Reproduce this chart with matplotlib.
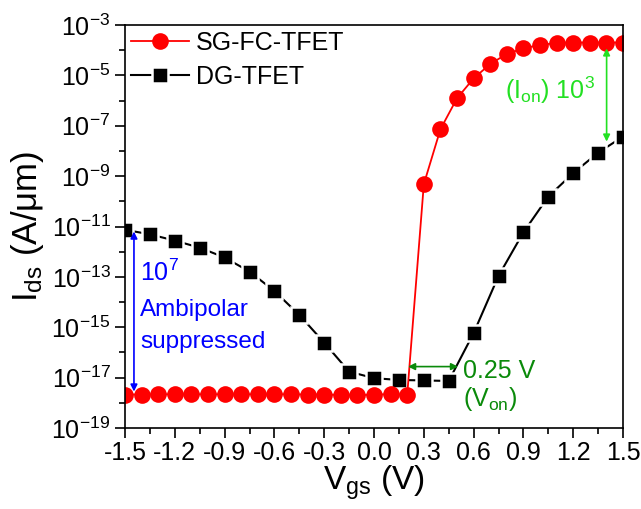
import numpy as np
import matplotlib
matplotlib.use('Agg')
import matplotlib.pyplot as plt

plt.rcParams['font.family'] = ['Liberation Sans', 'DejaVu Sans']
plt.rcParams['mathtext.fontset'] = 'custom'
plt.rcParams['mathtext.rm'] = 'Liberation Sans'
plt.rcParams['mathtext.it'] = 'Liberation Sans:italic'
plt.rcParams['axes.unicode_minus'] = False

# SG-FC-TFET (red circles), log10 of Ids
vgs_sg = [-1.5, -1.4, -1.3, -1.2, -1.1, -1.0, -0.9, -0.8, -0.7, -0.6, -0.5, -0.4,
          -0.3, -0.2, -0.1, 0.0, 0.1, 0.2,
          0.3, 0.4, 0.5, 0.6, 0.7, 0.8, 0.9, 1.0, 1.1, 1.2, 1.3, 1.4, 1.5]
log_ids_sg = [-17.67, -17.67, -17.66, -17.66, -17.66, -17.66, -17.66, -17.66, -17.66,
              -17.66, -17.66, -17.67, -17.67, -17.69, -17.70, -17.67, -17.66, -17.67,
              -9.32, -7.14, -5.91, -5.12, -4.55, -4.15, -3.93, -3.79, -3.72, -3.70,
              -3.70, -3.70, -3.70]

# DG-TFET (black squares)
vgs_dg = [-1.5, -1.35, -1.2, -1.05, -0.9, -0.75, -0.6, -0.45, -0.3, -0.15, 0.0,
          0.15, 0.3, 0.45, 0.6, 0.75, 0.9, 1.05, 1.2, 1.35, 1.5]
log_ids_dg = [-11.13, -11.31, -11.56, -11.84, -12.23, -12.79, -13.56, -14.51, -15.61,
              -16.76, -17.02, -17.09, -17.11, -17.13, -15.23, -12.96, -11.23, -9.81,
              -8.88, -8.07, -7.43]

xticks = [-1.5, -1.2, -0.9, -0.6, -0.3, 0.0, 0.3, 0.6, 0.9, 1.2, 1.5]
yexp = [-19, -17, -15, -13, -11, -9, -7, -5, -3]

ids_sg = 10.0 ** np.array(log_ids_sg)
ids_dg = 10.0 ** np.array(log_ids_dg)

fig = plt.figure(figsize=(6.41, 5.09), dpi=100)
ax = fig.add_axes([0.195, 0.159, 0.777, 0.792])

ax.plot(vgs_dg, ids_dg, '-s', color='black', lw=1.5, ms=11, mfc='black',
        mec='white', mew=1.8, label='DG-TFET')
ax.plot(vgs_sg, ids_sg, '-o', color='red', lw=1.3, ms=12, mfc='red',
        mec='red', mew=0, label='SG-FC-TFET')

ax.set_yscale('log')
ax.set_xlim(-1.5, 1.5)
ax.set_ylim(1e-19, 1e-3)

ax.set_xticks(xticks)
ax.set_xticklabels(['%.1f' % v for v in xticks])
ax.set_xticks(np.arange(-1.35, 1.5, 0.3), minor=True)
ax.set_yticks([10.0 ** e for e in yexp])
ax.set_yticklabels([r'$\mathregular{10^{%d}}$' % e for e in yexp])
ax.set_yticks([10.0 ** e for e in range(-18, -3, 2)], minor=True)
ax.yaxis.set_minor_formatter(matplotlib.ticker.NullFormatter())

ax.tick_params(which='major', direction='out', length=7, width=1.2, labelsize=18,
               top=False, right=False)
ax.tick_params(which='minor', direction='out', length=4, width=1.2,
               top=False, right=False)
ax.tick_params(axis='x', pad=2)
for s in ax.spines.values():
    s.set_linewidth(1.2)

ax.set_xlabel(r'V$_{\mathregular{gs}}$ (V)', fontsize=24, labelpad=-1)
ax.set_ylabel(r'I$_{\mathregular{ds}}$ (A/μm)', fontsize=25, labelpad=4)

h, l = ax.get_legend_handles_labels()
ax.legend(h[::-1], l[::-1], loc='upper left', fontsize=18, frameon=False,
          handlelength=2.3, handletextpad=0.3, borderaxespad=0.05,
          labelspacing=0.4, borderpad=0.2)

# annotations
blue = '#0000ff'
ax.annotate('', xy=(-1.446, 10 ** -17.55), xytext=(-1.446, 10 ** -11.2),
            arrowprops=dict(arrowstyle='<|-|>', color=blue, lw=1.2,
                            mutation_scale=10, shrinkA=0, shrinkB=0))
ax.text(-1.41, 10 ** -12.84, r'10$^{\mathregular{7}}$', color=blue, fontsize=18,
        va='center', ha='left')
ax.text(-1.41, 10 ** -14.31, 'Ambipolar', color=blue, fontsize=17.5,
        va='center', ha='left')
ax.text(-1.41, 10 ** -15.57, 'suppressed', color=blue, fontsize=17.5,
        va='center', ha='left')

lime = '#22e022'
ax.annotate('', xy=(1.401, 10 ** -7.63), xytext=(1.401, 10 ** -3.93),
            arrowprops=dict(arrowstyle='<|-|>', color=lime, lw=1.2,
                            mutation_scale=10, shrinkA=0, shrinkB=0))
ax.text(0.79, 10 ** -5.58, r'(I$_{\mathregular{on}}$) 10$^{\mathregular{3}}$',
        color=lime, fontsize=18, va='center', ha='left')

dgreen = '#0a8a0a'
ax.annotate('', xy=(0.506, 10 ** -16.56), xytext=(0.205, 10 ** -16.56),
            arrowprops=dict(arrowstyle='<|-|>', color=dgreen, lw=1.2,
                            mutation_scale=10, shrinkA=0, shrinkB=0))
ax.text(0.536, 10 ** -16.72, '0.25 V', color=dgreen, fontsize=18,
        va='center', ha='left')
ax.text(0.536, 10 ** -17.85, r'(V$_{\mathregular{on}}$)', color=dgreen, fontsize=18,
        va='center', ha='left')

fig.savefig('out.png', dpi=100)
